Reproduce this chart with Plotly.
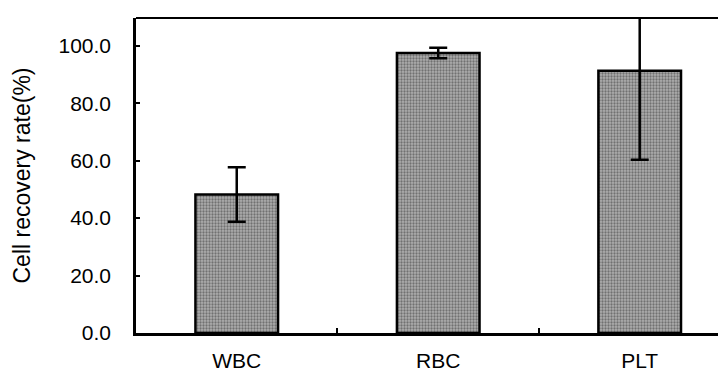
import plotly.graph_objects as go

categories = ["WBC", "RBC", "PLT"]
recovery = [48.2, 97.5, 91.3]
error = [9.5, 1.8, 31.0]
y_ticks = [0, 20, 40, 60, 80, 100]
y_tick_labels = ["0.0", "20.0", "40.0", "60.0", "80.0", "100.0"]

FONT = "Liberation Sans, Arial, sans-serif"

fig = go.Figure()
fig.add_trace(go.Bar(
    x=categories,
    y=recovery,
    width=0.41,
    marker=dict(
        color="#a0a0a0",
        line=dict(color="black", width=2.5),
        pattern=dict(shape=".", fgcolor="#333333", bgcolor="#aeaeae", size=3, solidity=0.45),
    ),
    error_y=dict(type="data", array=error, visible=True, color="black", thickness=2.5, width=9),
    showlegend=False,
))

fig.update_layout(
    width=726,
    height=381,
    margin=dict(l=128, r=0, t=10, b=56, autoexpand=False),
    paper_bgcolor="white",
    plot_bgcolor="white",
    font=dict(family=FONT, size=21, color="black"),
    xaxis=dict(
        type="category",
        range=[-0.5, 2.468],
        automargin=False,
        showline=True,
        linecolor="black",
        linewidth=3,
        ticks="inside",
        ticklen=5,
        tickwidth=1.5,
        tickcolor="black",
        tickson="boundaries",
        showgrid=False,
        tickfont=dict(size=21),
        ticklabelstandoff=7,
    ),
    yaxis=dict(
        range=[0, 109.7],
        automargin=False,
        tickvals=y_ticks,
        ticktext=y_tick_labels,
        showline=True,
        linecolor="black",
        linewidth=2.5,
        ticks="inside",
        ticklen=4,
        tickwidth=1.5,
        tickcolor="black",
        showgrid=False,
        zeroline=False,
        tickfont=dict(size=21),
        ticklabelstandoff=18,
        title=dict(text="Cell recovery rate(%)", font=dict(size=23), standoff=22),
    ),
    shapes=[dict(type="line", xref="paper", yref="paper", x0=0, x1=1, y0=1, y1=1,
                 line=dict(color="black", width=2))],
)

fig.write_html("out.html")
